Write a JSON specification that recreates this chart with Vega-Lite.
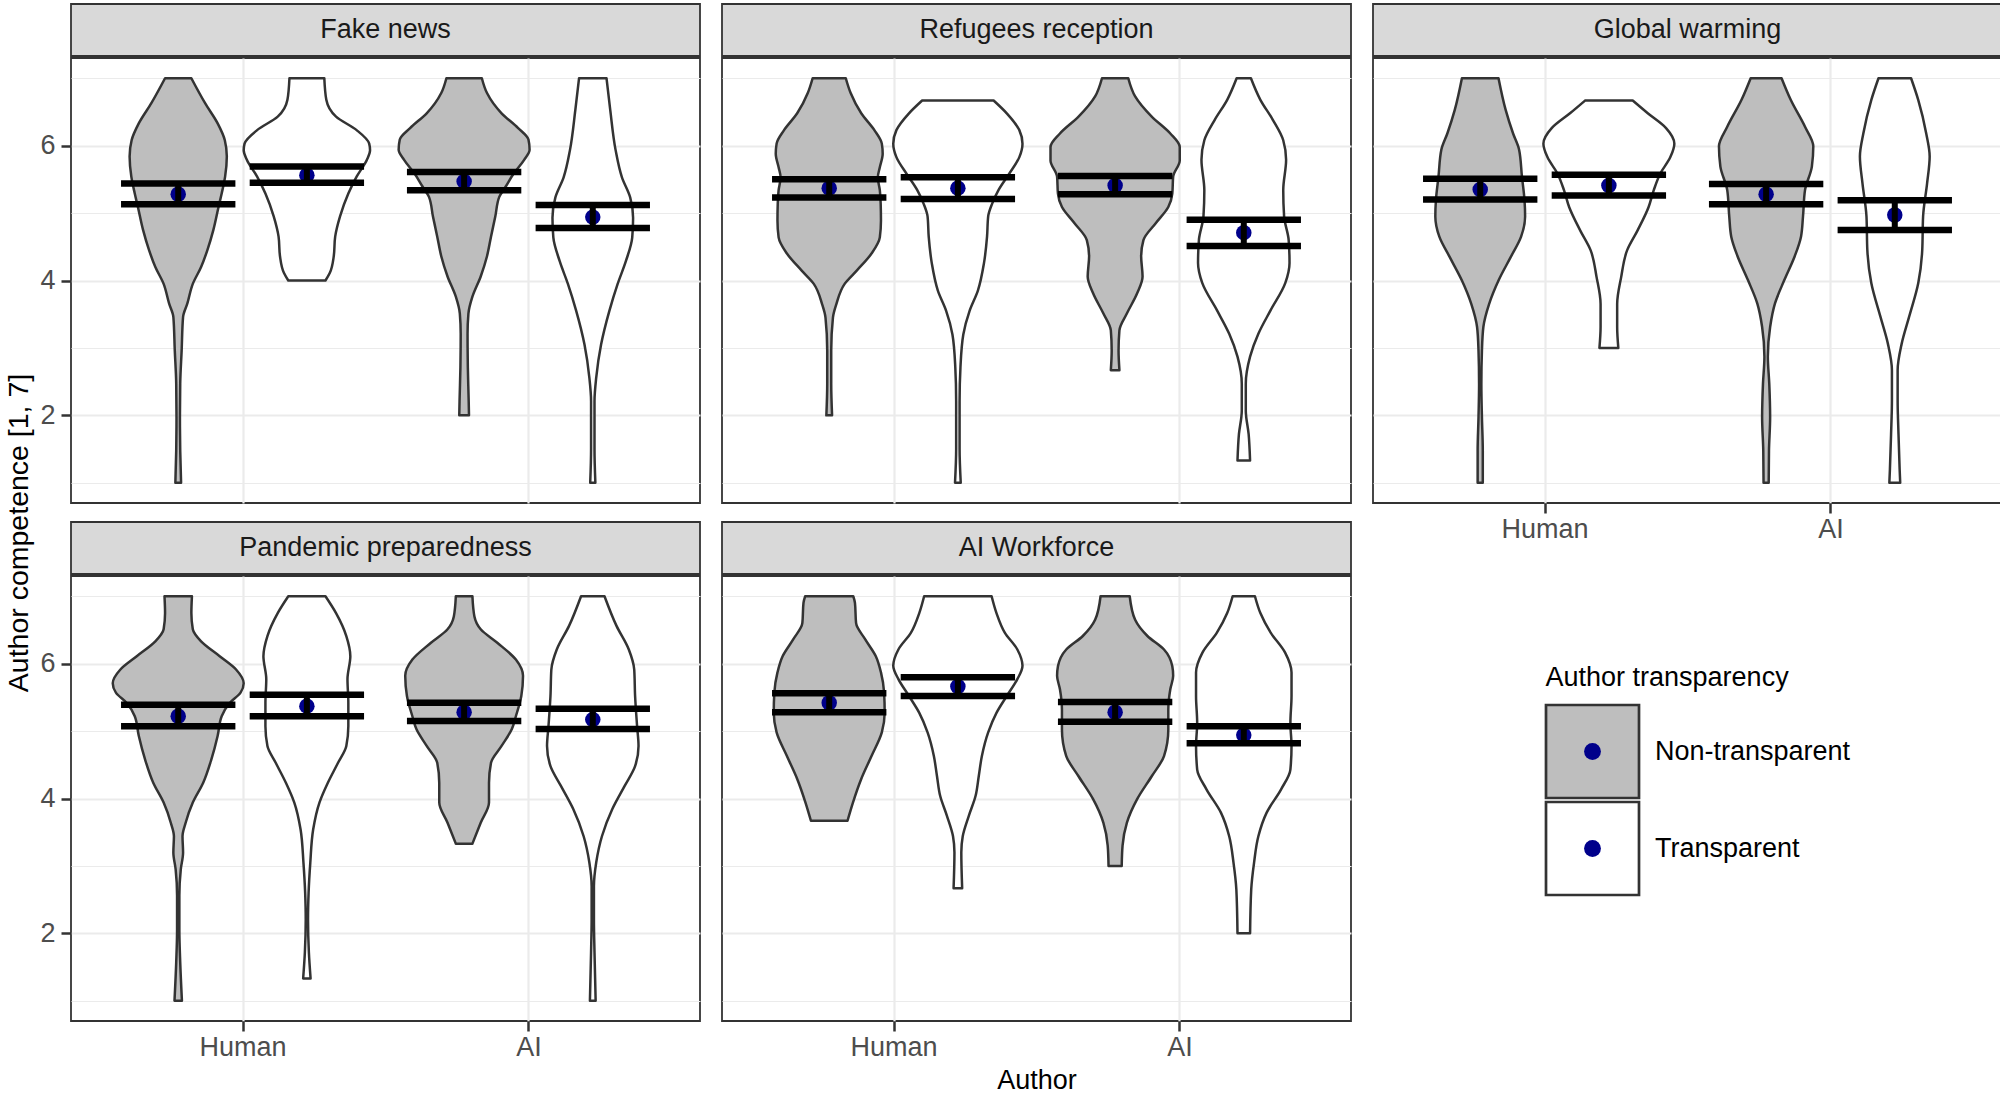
{
"$schema": "https://vega.github.io/schema/vega-lite/v6.json",
"padding": {"left": 5, "top": 3, "right": 0, "bottom": 0},
"autosize": {"type": "pad"},
"background": "white",
"config": {
  "font": "Liberation Sans",
  "view": {"stroke": "#333333", "strokeWidth": 1.8},
  "axis": {"gridColor": "#ebebeb", "domain": false, "tickSize": 10, "tickWidth": 2.5, "tickColor": "#333333", "labelFontSize": 27, "labelColor": "#4d4d4d", "titleFontSize": 27, "titleFontWeight": "normal", "titleColor": "#000000", "labelOverlap": false, "labelFlush": false}
},
"datasets": {
"violin": [
{"topic":"Fake news","author":"Human","transparency":"Non-transparent","y":7,"w":0.046},
{"topic":"Fake news","author":"Human","transparency":"Non-transparent","y":6.63,"w":0.094},
{"topic":"Fake news","author":"Human","transparency":"Non-transparent","y":6.33,"w":0.138},
{"topic":"Fake news","author":"Human","transparency":"Non-transparent","y":6.08,"w":0.163},
{"topic":"Fake news","author":"Human","transparency":"Non-transparent","y":5.84,"w":0.170},
{"topic":"Fake news","author":"Human","transparency":"Non-transparent","y":5.54,"w":0.164},
{"topic":"Fake news","author":"Human","transparency":"Non-transparent","y":5.29,"w":0.152},
{"topic":"Fake news","author":"Human","transparency":"Non-transparent","y":5.09,"w":0.141},
{"topic":"Fake news","author":"Human","transparency":"Non-transparent","y":4.75,"w":0.123},
{"topic":"Fake news","author":"Human","transparency":"Non-transparent","y":4.45,"w":0.102},
{"topic":"Fake news","author":"Human","transparency":"Non-transparent","y":4.2,"w":0.080},
{"topic":"Fake news","author":"Human","transparency":"Non-transparent","y":3.95,"w":0.051},
{"topic":"Fake news","author":"Human","transparency":"Non-transparent","y":3.66,"w":0.032},
{"topic":"Fake news","author":"Human","transparency":"Non-transparent","y":3.46,"w":0.017},
{"topic":"Fake news","author":"Human","transparency":"Non-transparent","y":2.96,"w":0.012},
{"topic":"Fake news","author":"Human","transparency":"Non-transparent","y":2.47,"w":0.007},
{"topic":"Fake news","author":"Human","transparency":"Non-transparent","y":1.97,"w":0.006},
{"topic":"Fake news","author":"Human","transparency":"Non-transparent","y":1.48,"w":0.007},
{"topic":"Fake news","author":"Human","transparency":"Non-transparent","y":1,"w":0.010},
{"topic":"Fake news","author":"Human","transparency":"Transparent","y":7,"w":0.061},
{"topic":"Fake news","author":"Human","transparency":"Transparent","y":6.68,"w":0.068},
{"topic":"Fake news","author":"Human","transparency":"Transparent","y":6.43,"w":0.102},
{"topic":"Fake news","author":"Human","transparency":"Transparent","y":6.23,"w":0.174},
{"topic":"Fake news","author":"Human","transparency":"Transparent","y":6.03,"w":0.218},
{"topic":"Fake news","author":"Human","transparency":"Transparent","y":5.93,"w":0.221},
{"topic":"Fake news","author":"Human","transparency":"Transparent","y":5.79,"w":0.210},
{"topic":"Fake news","author":"Human","transparency":"Transparent","y":5.54,"w":0.174},
{"topic":"Fake news","author":"Human","transparency":"Transparent","y":5.29,"w":0.145},
{"topic":"Fake news","author":"Human","transparency":"Transparent","y":4.95,"w":0.116},
{"topic":"Fake news","author":"Human","transparency":"Transparent","y":4.65,"w":0.099},
{"topic":"Fake news","author":"Human","transparency":"Transparent","y":4.36,"w":0.094},
{"topic":"Fake news","author":"Human","transparency":"Transparent","y":4.11,"w":0.080},
{"topic":"Fake news","author":"Human","transparency":"Transparent","y":4,"w":0.065},
{"topic":"Fake news","author":"AI","transparency":"Non-transparent","y":7,"w":0.062},
{"topic":"Fake news","author":"AI","transparency":"Non-transparent","y":6.78,"w":0.080},
{"topic":"Fake news","author":"AI","transparency":"Non-transparent","y":6.48,"w":0.131},
{"topic":"Fake news","author":"AI","transparency":"Non-transparent","y":6.26,"w":0.189},
{"topic":"Fake news","author":"AI","transparency":"Non-transparent","y":6.09,"w":0.225},
{"topic":"Fake news","author":"AI","transparency":"Non-transparent","y":5.94,"w":0.229},
{"topic":"Fake news","author":"AI","transparency":"Non-transparent","y":5.79,"w":0.210},
{"topic":"Fake news","author":"AI","transparency":"Non-transparent","y":5.59,"w":0.174},
{"topic":"Fake news","author":"AI","transparency":"Non-transparent","y":5.39,"w":0.145},
{"topic":"Fake news","author":"AI","transparency":"Non-transparent","y":5.24,"w":0.123},
{"topic":"Fake news","author":"AI","transparency":"Non-transparent","y":4.95,"w":0.109},
{"topic":"Fake news","author":"AI","transparency":"Non-transparent","y":4.65,"w":0.094},
{"topic":"Fake news","author":"AI","transparency":"Non-transparent","y":4.36,"w":0.080},
{"topic":"Fake news","author":"AI","transparency":"Non-transparent","y":4.06,"w":0.058},
{"topic":"Fake news","author":"AI","transparency":"Non-transparent","y":3.76,"w":0.029},
{"topic":"Fake news","author":"AI","transparency":"Non-transparent","y":3.51,"w":0.015},
{"topic":"Fake news","author":"AI","transparency":"Non-transparent","y":3.21,"w":0.012},
{"topic":"Fake news","author":"AI","transparency":"Non-transparent","y":2.71,"w":0.013},
{"topic":"Fake news","author":"AI","transparency":"Non-transparent","y":2.21,"w":0.016},
{"topic":"Fake news","author":"AI","transparency":"Non-transparent","y":2,"w":0.017},
{"topic":"Fake news","author":"AI","transparency":"Transparent","y":7,"w":0.048},
{"topic":"Fake news","author":"AI","transparency":"Transparent","y":6.53,"w":0.061},
{"topic":"Fake news","author":"AI","transparency":"Transparent","y":5.93,"w":0.080},
{"topic":"Fake news","author":"AI","transparency":"Transparent","y":5.53,"w":0.102},
{"topic":"Fake news","author":"AI","transparency":"Transparent","y":5.23,"w":0.131},
{"topic":"Fake news","author":"AI","transparency":"Transparent","y":4.93,"w":0.141},
{"topic":"Fake news","author":"AI","transparency":"Transparent","y":4.64,"w":0.138},
{"topic":"Fake news","author":"AI","transparency":"Transparent","y":4.29,"w":0.116},
{"topic":"Fake news","author":"AI","transparency":"Transparent","y":3.95,"w":0.087},
{"topic":"Fake news","author":"AI","transparency":"Transparent","y":3.55,"w":0.058},
{"topic":"Fake news","author":"AI","transparency":"Transparent","y":3.05,"w":0.029},
{"topic":"Fake news","author":"AI","transparency":"Transparent","y":2.56,"w":0.012},
{"topic":"Fake news","author":"AI","transparency":"Transparent","y":2.21,"w":0.006},
{"topic":"Fake news","author":"AI","transparency":"Transparent","y":1.5,"w":0.006},
{"topic":"Fake news","author":"AI","transparency":"Transparent","y":1,"w":0.009},
{"topic":"Refugees reception","author":"Human","transparency":"Non-transparent","y":7,"w":0.058},
{"topic":"Refugees reception","author":"Human","transparency":"Non-transparent","y":6.78,"w":0.075},
{"topic":"Refugees reception","author":"Human","transparency":"Non-transparent","y":6.48,"w":0.112},
{"topic":"Refugees reception","author":"Human","transparency":"Non-transparent","y":6.23,"w":0.158},
{"topic":"Refugees reception","author":"Human","transparency":"Non-transparent","y":6.03,"w":0.184},
{"topic":"Refugees reception","author":"Human","transparency":"Non-transparent","y":5.88,"w":0.187},
{"topic":"Refugees reception","author":"Human","transparency":"Non-transparent","y":5.68,"w":0.177},
{"topic":"Refugees reception","author":"Human","transparency":"Non-transparent","y":5.53,"w":0.170},
{"topic":"Refugees reception","author":"Human","transparency":"Non-transparent","y":5.34,"w":0.177},
{"topic":"Refugees reception","author":"Human","transparency":"Non-transparent","y":5.14,"w":0.180},
{"topic":"Refugees reception","author":"Human","transparency":"Non-transparent","y":4.89,"w":0.181},
{"topic":"Refugees reception","author":"Human","transparency":"Non-transparent","y":4.64,"w":0.177},
{"topic":"Refugees reception","author":"Human","transparency":"Non-transparent","y":4.4,"w":0.148},
{"topic":"Refugees reception","author":"Human","transparency":"Non-transparent","y":4.15,"w":0.097},
{"topic":"Refugees reception","author":"Human","transparency":"Non-transparent","y":3.95,"w":0.054},
{"topic":"Refugees reception","author":"Human","transparency":"Non-transparent","y":3.65,"w":0.025},
{"topic":"Refugees reception","author":"Human","transparency":"Non-transparent","y":3.45,"w":0.013},
{"topic":"Refugees reception","author":"Human","transparency":"Non-transparent","y":2.96,"w":0.007},
{"topic":"Refugees reception","author":"Human","transparency":"Non-transparent","y":2.47,"w":0.007},
{"topic":"Refugees reception","author":"Human","transparency":"Non-transparent","y":2,"w":0.010},
{"topic":"Refugees reception","author":"Human","transparency":"Transparent","y":6.67,"w":0.125},
{"topic":"Refugees reception","author":"Human","transparency":"Transparent","y":6.48,"w":0.171},
{"topic":"Refugees reception","author":"Human","transparency":"Transparent","y":6.23,"w":0.215},
{"topic":"Refugees reception","author":"Human","transparency":"Transparent","y":6.03,"w":0.226},
{"topic":"Refugees reception","author":"Human","transparency":"Transparent","y":5.83,"w":0.215},
{"topic":"Refugees reception","author":"Human","transparency":"Transparent","y":5.58,"w":0.179},
{"topic":"Refugees reception","author":"Human","transparency":"Transparent","y":5.34,"w":0.142},
{"topic":"Refugees reception","author":"Human","transparency":"Transparent","y":5.14,"w":0.120},
{"topic":"Refugees reception","author":"Human","transparency":"Transparent","y":4.95,"w":0.106},
{"topic":"Refugees reception","author":"Human","transparency":"Transparent","y":4.65,"w":0.102},
{"topic":"Refugees reception","author":"Human","transparency":"Transparent","y":4.25,"w":0.091},
{"topic":"Refugees reception","author":"Human","transparency":"Transparent","y":3.85,"w":0.070},
{"topic":"Refugees reception","author":"Human","transparency":"Transparent","y":3.55,"w":0.041},
{"topic":"Refugees reception","author":"Human","transparency":"Transparent","y":3.2,"w":0.019},
{"topic":"Refugees reception","author":"Human","transparency":"Transparent","y":2.71,"w":0.009},
{"topic":"Refugees reception","author":"Human","transparency":"Transparent","y":2.21,"w":0.006},
{"topic":"Refugees reception","author":"Human","transparency":"Transparent","y":1.5,"w":0.006},
{"topic":"Refugees reception","author":"Human","transparency":"Transparent","y":1,"w":0.010},
{"topic":"Refugees reception","author":"AI","transparency":"Non-transparent","y":7,"w":0.046},
{"topic":"Refugees reception","author":"AI","transparency":"Non-transparent","y":6.73,"w":0.070},
{"topic":"Refugees reception","author":"AI","transparency":"Non-transparent","y":6.43,"w":0.128},
{"topic":"Refugees reception","author":"AI","transparency":"Non-transparent","y":6.18,"w":0.193},
{"topic":"Refugees reception","author":"AI","transparency":"Non-transparent","y":5.98,"w":0.226},
{"topic":"Refugees reception","author":"AI","transparency":"Non-transparent","y":5.78,"w":0.226},
{"topic":"Refugees reception","author":"AI","transparency":"Non-transparent","y":5.54,"w":0.203},
{"topic":"Refugees reception","author":"AI","transparency":"Non-transparent","y":5.29,"w":0.200},
{"topic":"Refugees reception","author":"AI","transparency":"Non-transparent","y":5.09,"w":0.186},
{"topic":"Refugees reception","author":"AI","transparency":"Non-transparent","y":4.85,"w":0.142},
{"topic":"Refugees reception","author":"AI","transparency":"Non-transparent","y":4.6,"w":0.099},
{"topic":"Refugees reception","author":"AI","transparency":"Non-transparent","y":4.36,"w":0.091},
{"topic":"Refugees reception","author":"AI","transparency":"Non-transparent","y":4.06,"w":0.096},
{"topic":"Refugees reception","author":"AI","transparency":"Non-transparent","y":3.81,"w":0.077},
{"topic":"Refugees reception","author":"AI","transparency":"Non-transparent","y":3.51,"w":0.041},
{"topic":"Refugees reception","author":"AI","transparency":"Non-transparent","y":3.26,"w":0.015},
{"topic":"Refugees reception","author":"AI","transparency":"Non-transparent","y":2.96,"w":0.012},
{"topic":"Refugees reception","author":"AI","transparency":"Non-transparent","y":2.67,"w":0.015},
{"topic":"Refugees reception","author":"AI","transparency":"Transparent","y":7,"w":0.025},
{"topic":"Refugees reception","author":"AI","transparency":"Transparent","y":6.68,"w":0.058},
{"topic":"Refugees reception","author":"AI","transparency":"Transparent","y":6.38,"w":0.102},
{"topic":"Refugees reception","author":"AI","transparency":"Transparent","y":6.08,"w":0.138},
{"topic":"Refugees reception","author":"AI","transparency":"Transparent","y":5.79,"w":0.148},
{"topic":"Refugees reception","author":"AI","transparency":"Transparent","y":5.34,"w":0.138},
{"topic":"Refugees reception","author":"AI","transparency":"Transparent","y":4.95,"w":0.141},
{"topic":"Refugees reception","author":"AI","transparency":"Transparent","y":4.6,"w":0.157},
{"topic":"Refugees reception","author":"AI","transparency":"Transparent","y":4.26,"w":0.160},
{"topic":"Refugees reception","author":"AI","transparency":"Transparent","y":3.96,"w":0.145},
{"topic":"Refugees reception","author":"AI","transparency":"Transparent","y":3.56,"w":0.094},
{"topic":"Refugees reception","author":"AI","transparency":"Transparent","y":3.21,"w":0.051},
{"topic":"Refugees reception","author":"AI","transparency":"Transparent","y":2.87,"w":0.022},
{"topic":"Refugees reception","author":"AI","transparency":"Transparent","y":2.47,"w":0.007},
{"topic":"Refugees reception","author":"AI","transparency":"Transparent","y":2.07,"w":0.007},
{"topic":"Refugees reception","author":"AI","transparency":"Transparent","y":1.72,"w":0.017},
{"topic":"Refugees reception","author":"AI","transparency":"Transparent","y":1.33,"w":0.022},
{"topic":"Global warming","author":"Human","transparency":"Non-transparent","y":7,"w":0.064},
{"topic":"Global warming","author":"Human","transparency":"Non-transparent","y":6.53,"w":0.089},
{"topic":"Global warming","author":"Human","transparency":"Non-transparent","y":6.18,"w":0.115},
{"topic":"Global warming","author":"Human","transparency":"Non-transparent","y":5.94,"w":0.136},
{"topic":"Global warming","author":"Human","transparency":"Non-transparent","y":5.54,"w":0.146},
{"topic":"Global warming","author":"Human","transparency":"Non-transparent","y":5.19,"w":0.155},
{"topic":"Global warming","author":"Human","transparency":"Non-transparent","y":4.95,"w":0.157},
{"topic":"Global warming","author":"Human","transparency":"Non-transparent","y":4.65,"w":0.143},
{"topic":"Global warming","author":"Human","transparency":"Non-transparent","y":4.35,"w":0.107},
{"topic":"Global warming","author":"Human","transparency":"Non-transparent","y":4,"w":0.064},
{"topic":"Global warming","author":"Human","transparency":"Non-transparent","y":3.65,"w":0.031},
{"topic":"Global warming","author":"Human","transparency":"Non-transparent","y":3.31,"w":0.011},
{"topic":"Global warming","author":"Human","transparency":"Non-transparent","y":2.96,"w":0.006},
{"topic":"Global warming","author":"Human","transparency":"Non-transparent","y":2.47,"w":0.004},
{"topic":"Global warming","author":"Human","transparency":"Non-transparent","y":1.97,"w":0.006},
{"topic":"Global warming","author":"Human","transparency":"Non-transparent","y":1.48,"w":0.009},
{"topic":"Global warming","author":"Human","transparency":"Non-transparent","y":1,"w":0.009},
{"topic":"Global warming","author":"Human","transparency":"Transparent","y":6.67,"w":0.083},
{"topic":"Global warming","author":"Human","transparency":"Transparent","y":6.48,"w":0.136},
{"topic":"Global warming","author":"Human","transparency":"Transparent","y":6.26,"w":0.200},
{"topic":"Global warming","author":"Human","transparency":"Transparent","y":6.03,"w":0.229},
{"topic":"Global warming","author":"Human","transparency":"Transparent","y":5.83,"w":0.215},
{"topic":"Global warming","author":"Human","transparency":"Transparent","y":5.58,"w":0.179},
{"topic":"Global warming","author":"Human","transparency":"Transparent","y":5.34,"w":0.157},
{"topic":"Global warming","author":"Human","transparency":"Transparent","y":5.09,"w":0.139},
{"topic":"Global warming","author":"Human","transparency":"Transparent","y":4.74,"w":0.100},
{"topic":"Global warming","author":"Human","transparency":"Transparent","y":4.45,"w":0.064},
{"topic":"Global warming","author":"Human","transparency":"Transparent","y":4.05,"w":0.043},
{"topic":"Global warming","author":"Human","transparency":"Transparent","y":3.65,"w":0.029},
{"topic":"Global warming","author":"Human","transparency":"Transparent","y":3.31,"w":0.029},
{"topic":"Global warming","author":"Human","transparency":"Transparent","y":3,"w":0.033},
{"topic":"Global warming","author":"AI","transparency":"Non-transparent","y":7,"w":0.054},
{"topic":"Global warming","author":"AI","transparency":"Non-transparent","y":6.68,"w":0.086},
{"topic":"Global warming","author":"AI","transparency":"Non-transparent","y":6.28,"w":0.136},
{"topic":"Global warming","author":"AI","transparency":"Non-transparent","y":5.99,"w":0.165},
{"topic":"Global warming","author":"AI","transparency":"Non-transparent","y":5.69,"w":0.160},
{"topic":"Global warming","author":"AI","transparency":"Non-transparent","y":5.34,"w":0.136},
{"topic":"Global warming","author":"AI","transparency":"Non-transparent","y":4.95,"w":0.129},
{"topic":"Global warming","author":"AI","transparency":"Non-transparent","y":4.65,"w":0.122},
{"topic":"Global warming","author":"AI","transparency":"Non-transparent","y":4.36,"w":0.100},
{"topic":"Global warming","author":"AI","transparency":"Non-transparent","y":4.01,"w":0.064},
{"topic":"Global warming","author":"AI","transparency":"Non-transparent","y":3.66,"w":0.031},
{"topic":"Global warming","author":"AI","transparency":"Non-transparent","y":3.31,"w":0.014},
{"topic":"Global warming","author":"AI","transparency":"Non-transparent","y":2.87,"w":0.006},
{"topic":"Global warming","author":"AI","transparency":"Non-transparent","y":2.47,"w":0.011},
{"topic":"Global warming","author":"AI","transparency":"Non-transparent","y":1.97,"w":0.014},
{"topic":"Global warming","author":"AI","transparency":"Non-transparent","y":1.48,"w":0.010},
{"topic":"Global warming","author":"AI","transparency":"Non-transparent","y":1,"w":0.009},
{"topic":"Global warming","author":"AI","transparency":"Transparent","y":7,"w":0.057},
{"topic":"Global warming","author":"AI","transparency":"Transparent","y":6.68,"w":0.082},
{"topic":"Global warming","author":"AI","transparency":"Transparent","y":6.18,"w":0.110},
{"topic":"Global warming","author":"AI","transparency":"Transparent","y":5.84,"w":0.122},
{"topic":"Global warming","author":"AI","transparency":"Transparent","y":5.44,"w":0.113},
{"topic":"Global warming","author":"AI","transparency":"Transparent","y":4.95,"w":0.099},
{"topic":"Global warming","author":"AI","transparency":"Transparent","y":4.45,"w":0.096},
{"topic":"Global warming","author":"AI","transparency":"Transparent","y":3.96,"w":0.082},
{"topic":"Global warming","author":"AI","transparency":"Transparent","y":3.46,"w":0.050},
{"topic":"Global warming","author":"AI","transparency":"Transparent","y":3.06,"w":0.024},
{"topic":"Global warming","author":"AI","transparency":"Transparent","y":2.67,"w":0.010},
{"topic":"Global warming","author":"AI","transparency":"Transparent","y":2.22,"w":0.010},
{"topic":"Global warming","author":"AI","transparency":"Transparent","y":1.72,"w":0.013},
{"topic":"Global warming","author":"AI","transparency":"Transparent","y":1.2,"w":0.017},
{"topic":"Global warming","author":"AI","transparency":"Transparent","y":1,"w":0.019},
{"topic":"Pandemic preparedness","author":"Human","transparency":"Non-transparent","y":7,"w":0.048},
{"topic":"Pandemic preparedness","author":"Human","transparency":"Non-transparent","y":6.75,"w":0.046},
{"topic":"Pandemic preparedness","author":"Human","transparency":"Non-transparent","y":6.51,"w":0.051},
{"topic":"Pandemic preparedness","author":"Human","transparency":"Non-transparent","y":6.33,"w":0.080},
{"topic":"Pandemic preparedness","author":"Human","transparency":"Non-transparent","y":6.11,"w":0.145},
{"topic":"Pandemic preparedness","author":"Human","transparency":"Non-transparent","y":5.91,"w":0.203},
{"topic":"Pandemic preparedness","author":"Human","transparency":"Non-transparent","y":5.71,"w":0.229},
{"topic":"Pandemic preparedness","author":"Human","transparency":"Non-transparent","y":5.57,"w":0.218},
{"topic":"Pandemic preparedness","author":"Human","transparency":"Non-transparent","y":5.42,"w":0.181},
{"topic":"Pandemic preparedness","author":"Human","transparency":"Non-transparent","y":5.22,"w":0.152},
{"topic":"Pandemic preparedness","author":"Human","transparency":"Non-transparent","y":4.93,"w":0.138},
{"topic":"Pandemic preparedness","author":"Human","transparency":"Non-transparent","y":4.58,"w":0.116},
{"topic":"Pandemic preparedness","author":"Human","transparency":"Non-transparent","y":4.23,"w":0.087},
{"topic":"Pandemic preparedness","author":"Human","transparency":"Non-transparent","y":3.94,"w":0.051},
{"topic":"Pandemic preparedness","author":"Human","transparency":"Non-transparent","y":3.64,"w":0.026},
{"topic":"Pandemic preparedness","author":"Human","transparency":"Non-transparent","y":3.44,"w":0.015},
{"topic":"Pandemic preparedness","author":"Human","transparency":"Non-transparent","y":3.2,"w":0.017},
{"topic":"Pandemic preparedness","author":"Human","transparency":"Non-transparent","y":2.95,"w":0.009},
{"topic":"Pandemic preparedness","author":"Human","transparency":"Non-transparent","y":2.56,"w":0.004},
{"topic":"Pandemic preparedness","author":"Human","transparency":"Non-transparent","y":2.06,"w":0.004},
{"topic":"Pandemic preparedness","author":"Human","transparency":"Non-transparent","y":1.57,"w":0.007},
{"topic":"Pandemic preparedness","author":"Human","transparency":"Non-transparent","y":1,"w":0.013},
{"topic":"Pandemic preparedness","author":"Human","transparency":"Transparent","y":7,"w":0.065},
{"topic":"Pandemic preparedness","author":"Human","transparency":"Transparent","y":6.75,"w":0.102},
{"topic":"Pandemic preparedness","author":"Human","transparency":"Transparent","y":6.41,"w":0.138},
{"topic":"Pandemic preparedness","author":"Human","transparency":"Transparent","y":6.11,"w":0.152},
{"topic":"Pandemic preparedness","author":"Human","transparency":"Transparent","y":5.77,"w":0.142},
{"topic":"Pandemic preparedness","author":"Human","transparency":"Transparent","y":5.42,"w":0.145},
{"topic":"Pandemic preparedness","author":"Human","transparency":"Transparent","y":5.07,"w":0.145},
{"topic":"Pandemic preparedness","author":"Human","transparency":"Transparent","y":4.78,"w":0.138},
{"topic":"Pandemic preparedness","author":"Human","transparency":"Transparent","y":4.53,"w":0.109},
{"topic":"Pandemic preparedness","author":"Human","transparency":"Transparent","y":4.23,"w":0.073},
{"topic":"Pandemic preparedness","author":"Human","transparency":"Transparent","y":3.94,"w":0.044},
{"topic":"Pandemic preparedness","author":"Human","transparency":"Transparent","y":3.54,"w":0.022},
{"topic":"Pandemic preparedness","author":"Human","transparency":"Transparent","y":3.05,"w":0.012},
{"topic":"Pandemic preparedness","author":"Human","transparency":"Transparent","y":2.6,"w":0.006},
{"topic":"Pandemic preparedness","author":"Human","transparency":"Transparent","y":2.21,"w":0.004},
{"topic":"Pandemic preparedness","author":"Human","transparency":"Transparent","y":1.72,"w":0.007},
{"topic":"Pandemic preparedness","author":"Human","transparency":"Transparent","y":1.33,"w":0.013},
{"topic":"Pandemic preparedness","author":"AI","transparency":"Non-transparent","y":7,"w":0.029},
{"topic":"Pandemic preparedness","author":"AI","transparency":"Non-transparent","y":6.7,"w":0.036},
{"topic":"Pandemic preparedness","author":"AI","transparency":"Non-transparent","y":6.51,"w":0.058},
{"topic":"Pandemic preparedness","author":"AI","transparency":"Non-transparent","y":6.31,"w":0.116},
{"topic":"Pandemic preparedness","author":"AI","transparency":"Non-transparent","y":6.06,"w":0.181},
{"topic":"Pandemic preparedness","author":"AI","transparency":"Non-transparent","y":5.82,"w":0.206},
{"topic":"Pandemic preparedness","author":"AI","transparency":"Non-transparent","y":5.52,"w":0.200},
{"topic":"Pandemic preparedness","author":"AI","transparency":"Non-transparent","y":5.22,"w":0.181},
{"topic":"Pandemic preparedness","author":"AI","transparency":"Non-transparent","y":5.03,"w":0.167},
{"topic":"Pandemic preparedness","author":"AI","transparency":"Non-transparent","y":4.78,"w":0.131},
{"topic":"Pandemic preparedness","author":"AI","transparency":"Non-transparent","y":4.53,"w":0.094},
{"topic":"Pandemic preparedness","author":"AI","transparency":"Non-transparent","y":4.23,"w":0.087},
{"topic":"Pandemic preparedness","author":"AI","transparency":"Non-transparent","y":3.94,"w":0.087},
{"topic":"Pandemic preparedness","author":"AI","transparency":"Non-transparent","y":3.64,"w":0.058},
{"topic":"Pandemic preparedness","author":"AI","transparency":"Non-transparent","y":3.33,"w":0.029},
{"topic":"Pandemic preparedness","author":"AI","transparency":"Transparent","y":7,"w":0.041},
{"topic":"Pandemic preparedness","author":"AI","transparency":"Transparent","y":6.56,"w":0.083},
{"topic":"Pandemic preparedness","author":"AI","transparency":"Transparent","y":6.21,"w":0.126},
{"topic":"Pandemic preparedness","author":"AI","transparency":"Transparent","y":5.91,"w":0.145},
{"topic":"Pandemic preparedness","author":"AI","transparency":"Transparent","y":5.52,"w":0.148},
{"topic":"Pandemic preparedness","author":"AI","transparency":"Transparent","y":5.07,"w":0.155},
{"topic":"Pandemic preparedness","author":"AI","transparency":"Transparent","y":4.78,"w":0.160},
{"topic":"Pandemic preparedness","author":"AI","transparency":"Transparent","y":4.48,"w":0.148},
{"topic":"Pandemic preparedness","author":"AI","transparency":"Transparent","y":4.19,"w":0.112},
{"topic":"Pandemic preparedness","author":"AI","transparency":"Transparent","y":3.84,"w":0.068},
{"topic":"Pandemic preparedness","author":"AI","transparency":"Transparent","y":3.44,"w":0.032},
{"topic":"Pandemic preparedness","author":"AI","transparency":"Transparent","y":3.05,"w":0.012},
{"topic":"Pandemic preparedness","author":"AI","transparency":"Transparent","y":2.7,"w":0.004},
{"topic":"Pandemic preparedness","author":"AI","transparency":"Transparent","y":2.21,"w":0.004},
{"topic":"Pandemic preparedness","author":"AI","transparency":"Transparent","y":1.72,"w":0.006},
{"topic":"Pandemic preparedness","author":"AI","transparency":"Transparent","y":1,"w":0.010},
{"topic":"AI Workforce","author":"Human","transparency":"Non-transparent","y":7,"w":0.084},
{"topic":"AI Workforce","author":"Human","transparency":"Non-transparent","y":6.9,"w":0.090},
{"topic":"AI Workforce","author":"Human","transparency":"Non-transparent","y":6.6,"w":0.094},
{"topic":"AI Workforce","author":"Human","transparency":"Non-transparent","y":6.36,"w":0.126},
{"topic":"AI Workforce","author":"Human","transparency":"Non-transparent","y":6.11,"w":0.163},
{"topic":"AI Workforce","author":"Human","transparency":"Non-transparent","y":5.87,"w":0.181},
{"topic":"AI Workforce","author":"Human","transparency":"Non-transparent","y":5.57,"w":0.192},
{"topic":"AI Workforce","author":"Human","transparency":"Non-transparent","y":5.27,"w":0.194},
{"topic":"AI Workforce","author":"Human","transparency":"Non-transparent","y":4.98,"w":0.184},
{"topic":"AI Workforce","author":"Human","transparency":"Non-transparent","y":4.63,"w":0.148},
{"topic":"AI Workforce","author":"Human","transparency":"Non-transparent","y":4.29,"w":0.112},
{"topic":"AI Workforce","author":"Human","transparency":"Non-transparent","y":3.94,"w":0.083},
{"topic":"AI Workforce","author":"Human","transparency":"Non-transparent","y":3.67,"w":0.064},
{"topic":"AI Workforce","author":"Human","transparency":"Transparent","y":7,"w":0.118},
{"topic":"AI Workforce","author":"Human","transparency":"Transparent","y":6.75,"w":0.135},
{"topic":"AI Workforce","author":"Human","transparency":"Transparent","y":6.46,"w":0.164},
{"topic":"AI Workforce","author":"Human","transparency":"Transparent","y":6.21,"w":0.208},
{"topic":"AI Workforce","author":"Human","transparency":"Transparent","y":5.97,"w":0.226},
{"topic":"AI Workforce","author":"Human","transparency":"Transparent","y":5.77,"w":0.208},
{"topic":"AI Workforce","author":"Human","transparency":"Transparent","y":5.52,"w":0.171},
{"topic":"AI Workforce","author":"Human","transparency":"Transparent","y":5.27,"w":0.135},
{"topic":"AI Workforce","author":"Human","transparency":"Transparent","y":4.98,"w":0.106},
{"topic":"AI Workforce","author":"Human","transparency":"Transparent","y":4.63,"w":0.084},
{"topic":"AI Workforce","author":"Human","transparency":"Transparent","y":4.33,"w":0.073},
{"topic":"AI Workforce","author":"Human","transparency":"Transparent","y":4.04,"w":0.062},
{"topic":"AI Workforce","author":"Human","transparency":"Transparent","y":3.74,"w":0.038},
{"topic":"AI Workforce","author":"Human","transparency":"Transparent","y":3.44,"w":0.017},
{"topic":"AI Workforce","author":"Human","transparency":"Transparent","y":3.2,"w":0.012},
{"topic":"AI Workforce","author":"Human","transparency":"Transparent","y":2.67,"w":0.015},
{"topic":"AI Workforce","author":"AI","transparency":"Non-transparent","y":7,"w":0.051},
{"topic":"AI Workforce","author":"AI","transparency":"Non-transparent","y":6.65,"w":0.070},
{"topic":"AI Workforce","author":"AI","transparency":"Non-transparent","y":6.41,"w":0.113},
{"topic":"AI Workforce","author":"AI","transparency":"Non-transparent","y":6.21,"w":0.171},
{"topic":"AI Workforce","author":"AI","transparency":"Non-transparent","y":5.96,"w":0.200},
{"topic":"AI Workforce","author":"AI","transparency":"Non-transparent","y":5.82,"w":0.203},
{"topic":"AI Workforce","author":"AI","transparency":"Non-transparent","y":5.62,"w":0.193},
{"topic":"AI Workforce","author":"AI","transparency":"Non-transparent","y":5.32,"w":0.186},
{"topic":"AI Workforce","author":"AI","transparency":"Non-transparent","y":5.02,"w":0.186},
{"topic":"AI Workforce","author":"AI","transparency":"Non-transparent","y":4.63,"w":0.171},
{"topic":"AI Workforce","author":"AI","transparency":"Non-transparent","y":4.33,"w":0.128},
{"topic":"AI Workforce","author":"AI","transparency":"Non-transparent","y":3.99,"w":0.077},
{"topic":"AI Workforce","author":"AI","transparency":"Non-transparent","y":3.64,"w":0.041},
{"topic":"AI Workforce","author":"AI","transparency":"Non-transparent","y":3.3,"w":0.026},
{"topic":"AI Workforce","author":"AI","transparency":"Non-transparent","y":3,"w":0.023},
{"topic":"AI Workforce","author":"AI","transparency":"Transparent","y":7,"w":0.039},
{"topic":"AI Workforce","author":"AI","transparency":"Transparent","y":6.75,"w":0.058},
{"topic":"AI Workforce","author":"AI","transparency":"Transparent","y":6.46,"w":0.094},
{"topic":"AI Workforce","author":"AI","transparency":"Transparent","y":6.16,"w":0.145},
{"topic":"AI Workforce","author":"AI","transparency":"Transparent","y":5.87,"w":0.167},
{"topic":"AI Workforce","author":"AI","transparency":"Transparent","y":5.52,"w":0.167},
{"topic":"AI Workforce","author":"AI","transparency":"Transparent","y":5.12,"w":0.163},
{"topic":"AI Workforce","author":"AI","transparency":"Transparent","y":4.78,"w":0.167},
{"topic":"AI Workforce","author":"AI","transparency":"Transparent","y":4.43,"w":0.163},
{"topic":"AI Workforce","author":"AI","transparency":"Transparent","y":4.14,"w":0.131},
{"topic":"AI Workforce","author":"AI","transparency":"Transparent","y":3.79,"w":0.080},
{"topic":"AI Workforce","author":"AI","transparency":"Transparent","y":3.44,"w":0.051},
{"topic":"AI Workforce","author":"AI","transparency":"Transparent","y":3.05,"w":0.036},
{"topic":"AI Workforce","author":"AI","transparency":"Transparent","y":2.65,"w":0.026},
{"topic":"AI Workforce","author":"AI","transparency":"Transparent","y":2,"w":0.022}
],
"stats": [
{"topic":"Fake news","author":"Human","transparency":"Non-transparent","mean":5.28,"lo":5.13,"hi":5.44},
{"topic":"Fake news","author":"Human","transparency":"Transparent","mean":5.56,"lo":5.45,"hi":5.69},
{"topic":"Fake news","author":"AI","transparency":"Non-transparent","mean":5.47,"lo":5.34,"hi":5.61},
{"topic":"Fake news","author":"AI","transparency":"Transparent","mean":4.94,"lo":4.78,"hi":5.12},
{"topic":"Refugees reception","author":"Human","transparency":"Non-transparent","mean":5.37,"lo":5.23,"hi":5.50},
{"topic":"Refugees reception","author":"Human","transparency":"Transparent","mean":5.37,"lo":5.21,"hi":5.53},
{"topic":"Refugees reception","author":"AI","transparency":"Non-transparent","mean":5.41,"lo":5.28,"hi":5.55},
{"topic":"Refugees reception","author":"AI","transparency":"Transparent","mean":4.71,"lo":4.51,"hi":4.90},
{"topic":"Global warming","author":"Human","transparency":"Non-transparent","mean":5.35,"lo":5.20,"hi":5.51},
{"topic":"Global warming","author":"Human","transparency":"Transparent","mean":5.41,"lo":5.26,"hi":5.57},
{"topic":"Global warming","author":"AI","transparency":"Non-transparent","mean":5.28,"lo":5.13,"hi":5.43},
{"topic":"Global warming","author":"AI","transparency":"Transparent","mean":4.97,"lo":4.75,"hi":5.19},
{"topic":"Pandemic preparedness","author":"Human","transparency":"Non-transparent","mean":5.22,"lo":5.07,"hi":5.39},
{"topic":"Pandemic preparedness","author":"Human","transparency":"Transparent","mean":5.37,"lo":5.22,"hi":5.54},
{"topic":"Pandemic preparedness","author":"AI","transparency":"Non-transparent","mean":5.28,"lo":5.15,"hi":5.42},
{"topic":"Pandemic preparedness","author":"AI","transparency":"Transparent","mean":5.17,"lo":5.03,"hi":5.33},
{"topic":"AI Workforce","author":"Human","transparency":"Non-transparent","mean":5.42,"lo":5.28,"hi":5.56},
{"topic":"AI Workforce","author":"Human","transparency":"Transparent","mean":5.66,"lo":5.52,"hi":5.80},
{"topic":"AI Workforce","author":"AI","transparency":"Non-transparent","mean":5.28,"lo":5.14,"hi":5.43},
{"topic":"AI Workforce","author":"AI","transparency":"Transparent","mean":4.94,"lo":4.82,"hi":5.07}
]
},
"spacing": 5,
"hconcat": [
{"width": 20, "height": 1058, "view": {"stroke": null, "fill": null},
 "data": {"values": [{"label": "Author competence [1, 7]"}]},
 "mark": {"type": "text", "angle": 270, "fontSize": 28.5, "color": "#000000"},
 "encoding": {"text": {"field": "label", "type": "nominal"}}},
{"spacing": 20, "hconcat": [
 {"spacing": 17, "vconcat": [
  {"spacing": 0, "vconcat": [
   {"width": 629, "height": 52, "view": {"fill": "#d9d9d9", "stroke": "#333333", "strokeWidth": 1.8}, "data": {"values": [{"topic": "Fake news"}]}, "mark": {"type": "text", "fontSize": 27, "color": "#1a1a1a"}, "encoding": {"text": {"field": "topic", "type": "nominal"}}},
   {"width": 629, "height": 445, "layer": [
    {"data": {"name": "violin"},
     "transform": [{"filter": "datum.topic === 'Fake news'"}, {"calculate": "(datum.author === 'Human' ? 1 : 2) + (datum.transparency === 'Transparent' ? 0.225 : -0.225)", "as": "xc"}, {"calculate": "datum.xc - datum.w", "as": "xl"}, {"calculate": "datum.xc + datum.w", "as": "xr"}],
     "mark": {"type": "area", "orient": "horizontal", "interpolate": "monotone", "stroke": "#333333", "strokeWidth": 2.5, "strokeJoin": "round"},
     "encoding": {
      "y": {"field": "y", "type": "quantitative", "scale": {"domain": [0.7, 7.3], "nice": false, "zero": false}, "axis": {"values": [1,2,3,4,5,6,7], "format": "d", "labelExpr": "datum.value % 2 === 0 ? datum.label : ''", "gridWidth": {"condition": {"test": "datum.value % 2 === 0", "value": 2.2}, "value": 1.1}, "tickOpacity": {"condition": {"test": "datum.value % 2 === 0", "value": 1}, "value": 0}, "labelPadding": 6, "title": null}},
      "x": {"field": "xl", "type": "quantitative", "stack": null, "scale": {"domain": [0.4, 2.6], "nice": false, "zero": false}, "axis": {"values": [1, 2], "labels": false, "ticks": false, "gridWidth": 2.2, "title": null}},
      "x2": {"field": "xr"},
      "fill": {"field": "transparency", "type": "nominal", "scale": {"domain": ["Non-transparent", "Transparent"], "range": ["#bebebe", "#ffffff"]}, "legend": null},
      "detail": {"field": "author", "type": "nominal"}}},
    {"data": {"name": "stats"},
     "transform": [{"filter": "datum.topic === 'Fake news'"}, {"calculate": "(datum.author === 'Human' ? 1 : 2) + (datum.transparency === 'Transparent' ? 0.225 : -0.225)", "as": "xc"}, {"calculate": "datum.xc - 0.2", "as": "xa"}, {"calculate": "datum.xc + 0.2", "as": "xb"}],
     "layer": [
      {"mark": {"type": "point", "filled": true, "size": 240, "color": "#00008b", "opacity": 1}, "encoding": {"y": {"field": "mean", "type": "quantitative", "scale": {"domain": [0.7, 7.3], "nice": false, "zero": false}, "axis": {"title": null}}, "x": {"field": "xc", "type": "quantitative", "scale": {"domain": [0.4, 2.6], "nice": false, "zero": false}, "axis": {"title": null}}}},
      {"mark": {"type": "rule", "strokeWidth": 6.5, "color": "#000000"}, "encoding": {"y": {"field": "lo", "type": "quantitative", "scale": {"domain": [0.7, 7.3], "nice": false, "zero": false}, "axis": {"title": null}}, "x": {"field": "xa", "type": "quantitative", "scale": {"domain": [0.4, 2.6], "nice": false, "zero": false}, "axis": {"title": null}}, "x2": {"field": "xb"}}},
      {"mark": {"type": "rule", "strokeWidth": 6.5, "color": "#000000"}, "encoding": {"y": {"field": "hi", "type": "quantitative", "scale": {"domain": [0.7, 7.3], "nice": false, "zero": false}, "axis": {"title": null}}, "x": {"field": "xa", "type": "quantitative", "scale": {"domain": [0.4, 2.6], "nice": false, "zero": false}, "axis": {"title": null}}, "x2": {"field": "xb"}}},
      {"mark": {"type": "rule", "strokeWidth": 6, "color": "#000000"}, "encoding": {"y": {"field": "lo", "type": "quantitative", "scale": {"domain": [0.7, 7.3], "nice": false, "zero": false}, "axis": {"title": null}}, "y2": {"field": "hi"}, "x": {"field": "xc", "type": "quantitative", "scale": {"domain": [0.4, 2.6], "nice": false, "zero": false}, "axis": {"title": null}}}}
     ]}
   ]}
  ]},
  {"spacing": 0, "vconcat": [
   {"width": 629, "height": 52, "view": {"fill": "#d9d9d9", "stroke": "#333333", "strokeWidth": 1.8}, "data": {"values": [{"topic": "Pandemic preparedness"}]}, "mark": {"type": "text", "fontSize": 27, "color": "#1a1a1a"}, "encoding": {"text": {"field": "topic", "type": "nominal"}}},
   {"width": 629, "height": 445, "layer": [
    {"data": {"name": "violin"},
     "transform": [{"filter": "datum.topic === 'Pandemic preparedness'"}, {"calculate": "(datum.author === 'Human' ? 1 : 2) + (datum.transparency === 'Transparent' ? 0.225 : -0.225)", "as": "xc"}, {"calculate": "datum.xc - datum.w", "as": "xl"}, {"calculate": "datum.xc + datum.w", "as": "xr"}],
     "mark": {"type": "area", "orient": "horizontal", "interpolate": "monotone", "stroke": "#333333", "strokeWidth": 2.5, "strokeJoin": "round"},
     "encoding": {
      "y": {"field": "y", "type": "quantitative", "scale": {"domain": [0.7, 7.3], "nice": false, "zero": false}, "axis": {"values": [1,2,3,4,5,6,7], "format": "d", "labelExpr": "datum.value % 2 === 0 ? datum.label : ''", "gridWidth": {"condition": {"test": "datum.value % 2 === 0", "value": 2.2}, "value": 1.1}, "tickOpacity": {"condition": {"test": "datum.value % 2 === 0", "value": 1}, "value": 0}, "labelPadding": 6, "title": null}},
      "x": {"field": "xl", "type": "quantitative", "stack": null, "scale": {"domain": [0.4, 2.6], "nice": false, "zero": false}, "axis": {"values": [1, 2], "labelExpr": "datum.value === 1 ? 'Human' : 'AI'", "gridWidth": 2.2, "labelPadding": 3, "title": null}},
      "x2": {"field": "xr"},
      "fill": {"field": "transparency", "type": "nominal", "scale": {"domain": ["Non-transparent", "Transparent"], "range": ["#bebebe", "#ffffff"]}, "legend": null},
      "detail": {"field": "author", "type": "nominal"}}},
    {"data": {"name": "stats"},
     "transform": [{"filter": "datum.topic === 'Pandemic preparedness'"}, {"calculate": "(datum.author === 'Human' ? 1 : 2) + (datum.transparency === 'Transparent' ? 0.225 : -0.225)", "as": "xc"}, {"calculate": "datum.xc - 0.2", "as": "xa"}, {"calculate": "datum.xc + 0.2", "as": "xb"}],
     "layer": [
      {"mark": {"type": "point", "filled": true, "size": 240, "color": "#00008b", "opacity": 1}, "encoding": {"y": {"field": "mean", "type": "quantitative", "scale": {"domain": [0.7, 7.3], "nice": false, "zero": false}, "axis": {"title": null}}, "x": {"field": "xc", "type": "quantitative", "scale": {"domain": [0.4, 2.6], "nice": false, "zero": false}, "axis": {"title": null}}}},
      {"mark": {"type": "rule", "strokeWidth": 6.5, "color": "#000000"}, "encoding": {"y": {"field": "lo", "type": "quantitative", "scale": {"domain": [0.7, 7.3], "nice": false, "zero": false}, "axis": {"title": null}}, "x": {"field": "xa", "type": "quantitative", "scale": {"domain": [0.4, 2.6], "nice": false, "zero": false}, "axis": {"title": null}}, "x2": {"field": "xb"}}},
      {"mark": {"type": "rule", "strokeWidth": 6.5, "color": "#000000"}, "encoding": {"y": {"field": "hi", "type": "quantitative", "scale": {"domain": [0.7, 7.3], "nice": false, "zero": false}, "axis": {"title": null}}, "x": {"field": "xa", "type": "quantitative", "scale": {"domain": [0.4, 2.6], "nice": false, "zero": false}, "axis": {"title": null}}, "x2": {"field": "xb"}}},
      {"mark": {"type": "rule", "strokeWidth": 6, "color": "#000000"}, "encoding": {"y": {"field": "lo", "type": "quantitative", "scale": {"domain": [0.7, 7.3], "nice": false, "zero": false}, "axis": {"title": null}}, "y2": {"field": "hi"}, "x": {"field": "xc", "type": "quantitative", "scale": {"domain": [0.4, 2.6], "nice": false, "zero": false}, "axis": {"title": null}}}}
     ]}
   ]}
  ]}
 ]},
 {"spacing": 17, "vconcat": [
  {"spacing": 0, "vconcat": [
   {"width": 629, "height": 52, "view": {"fill": "#d9d9d9", "stroke": "#333333", "strokeWidth": 1.8}, "data": {"values": [{"topic": "Refugees reception"}]}, "mark": {"type": "text", "fontSize": 27, "color": "#1a1a1a"}, "encoding": {"text": {"field": "topic", "type": "nominal"}}},
   {"width": 629, "height": 445, "layer": [
    {"data": {"name": "violin"},
     "transform": [{"filter": "datum.topic === 'Refugees reception'"}, {"calculate": "(datum.author === 'Human' ? 1 : 2) + (datum.transparency === 'Transparent' ? 0.225 : -0.225)", "as": "xc"}, {"calculate": "datum.xc - datum.w", "as": "xl"}, {"calculate": "datum.xc + datum.w", "as": "xr"}],
     "mark": {"type": "area", "orient": "horizontal", "interpolate": "monotone", "stroke": "#333333", "strokeWidth": 2.5, "strokeJoin": "round"},
     "encoding": {
      "y": {"field": "y", "type": "quantitative", "scale": {"domain": [0.7, 7.3], "nice": false, "zero": false}, "axis": {"values": [1,2,3,4,5,6,7], "labels": false, "ticks": false, "gridWidth": {"condition": {"test": "datum.value % 2 === 0", "value": 2.2}, "value": 1.1}, "title": null}},
      "x": {"field": "xl", "type": "quantitative", "stack": null, "scale": {"domain": [0.4, 2.6], "nice": false, "zero": false}, "axis": {"values": [1, 2], "labels": false, "ticks": false, "gridWidth": 2.2, "title": null}},
      "x2": {"field": "xr"},
      "fill": {"field": "transparency", "type": "nominal", "scale": {"domain": ["Non-transparent", "Transparent"], "range": ["#bebebe", "#ffffff"]}, "legend": null},
      "detail": {"field": "author", "type": "nominal"}}},
    {"data": {"name": "stats"},
     "transform": [{"filter": "datum.topic === 'Refugees reception'"}, {"calculate": "(datum.author === 'Human' ? 1 : 2) + (datum.transparency === 'Transparent' ? 0.225 : -0.225)", "as": "xc"}, {"calculate": "datum.xc - 0.2", "as": "xa"}, {"calculate": "datum.xc + 0.2", "as": "xb"}],
     "layer": [
      {"mark": {"type": "point", "filled": true, "size": 240, "color": "#00008b", "opacity": 1}, "encoding": {"y": {"field": "mean", "type": "quantitative", "scale": {"domain": [0.7, 7.3], "nice": false, "zero": false}, "axis": {"title": null}}, "x": {"field": "xc", "type": "quantitative", "scale": {"domain": [0.4, 2.6], "nice": false, "zero": false}, "axis": {"title": null}}}},
      {"mark": {"type": "rule", "strokeWidth": 6.5, "color": "#000000"}, "encoding": {"y": {"field": "lo", "type": "quantitative", "scale": {"domain": [0.7, 7.3], "nice": false, "zero": false}, "axis": {"title": null}}, "x": {"field": "xa", "type": "quantitative", "scale": {"domain": [0.4, 2.6], "nice": false, "zero": false}, "axis": {"title": null}}, "x2": {"field": "xb"}}},
      {"mark": {"type": "rule", "strokeWidth": 6.5, "color": "#000000"}, "encoding": {"y": {"field": "hi", "type": "quantitative", "scale": {"domain": [0.7, 7.3], "nice": false, "zero": false}, "axis": {"title": null}}, "x": {"field": "xa", "type": "quantitative", "scale": {"domain": [0.4, 2.6], "nice": false, "zero": false}, "axis": {"title": null}}, "x2": {"field": "xb"}}},
      {"mark": {"type": "rule", "strokeWidth": 6, "color": "#000000"}, "encoding": {"y": {"field": "lo", "type": "quantitative", "scale": {"domain": [0.7, 7.3], "nice": false, "zero": false}, "axis": {"title": null}}, "y2": {"field": "hi"}, "x": {"field": "xc", "type": "quantitative", "scale": {"domain": [0.4, 2.6], "nice": false, "zero": false}, "axis": {"title": null}}}}
     ]}
   ]}
  ]},
  {"spacing": 0, "vconcat": [
   {"width": 629, "height": 52, "view": {"fill": "#d9d9d9", "stroke": "#333333", "strokeWidth": 1.8}, "data": {"values": [{"topic": "AI Workforce"}]}, "mark": {"type": "text", "fontSize": 27, "color": "#1a1a1a"}, "encoding": {"text": {"field": "topic", "type": "nominal"}}},
   {"width": 629, "height": 445, "layer": [
    {"data": {"name": "violin"},
     "transform": [{"filter": "datum.topic === 'AI Workforce'"}, {"calculate": "(datum.author === 'Human' ? 1 : 2) + (datum.transparency === 'Transparent' ? 0.225 : -0.225)", "as": "xc"}, {"calculate": "datum.xc - datum.w", "as": "xl"}, {"calculate": "datum.xc + datum.w", "as": "xr"}],
     "mark": {"type": "area", "orient": "horizontal", "interpolate": "monotone", "stroke": "#333333", "strokeWidth": 2.5, "strokeJoin": "round"},
     "encoding": {
      "y": {"field": "y", "type": "quantitative", "scale": {"domain": [0.7, 7.3], "nice": false, "zero": false}, "axis": {"values": [1,2,3,4,5,6,7], "labels": false, "ticks": false, "gridWidth": {"condition": {"test": "datum.value % 2 === 0", "value": 2.2}, "value": 1.1}, "title": null}},
      "x": {"field": "xl", "type": "quantitative", "stack": null, "scale": {"domain": [0.4, 2.6], "nice": false, "zero": false}, "axis": {"values": [1, 2], "labelExpr": "datum.value === 1 ? 'Human' : 'AI'", "gridWidth": 2.2, "labelPadding": 3, "title": "Author", "titlePadding": 7}},
      "x2": {"field": "xr"},
      "fill": {"field": "transparency", "type": "nominal", "scale": {"domain": ["Non-transparent", "Transparent"], "range": ["#bebebe", "#ffffff"]}, "legend": null},
      "detail": {"field": "author", "type": "nominal"}}},
    {"data": {"name": "stats"},
     "transform": [{"filter": "datum.topic === 'AI Workforce'"}, {"calculate": "(datum.author === 'Human' ? 1 : 2) + (datum.transparency === 'Transparent' ? 0.225 : -0.225)", "as": "xc"}, {"calculate": "datum.xc - 0.2", "as": "xa"}, {"calculate": "datum.xc + 0.2", "as": "xb"}],
     "layer": [
      {"mark": {"type": "point", "filled": true, "size": 240, "color": "#00008b", "opacity": 1}, "encoding": {"y": {"field": "mean", "type": "quantitative", "scale": {"domain": [0.7, 7.3], "nice": false, "zero": false}, "axis": {"title": null}}, "x": {"field": "xc", "type": "quantitative", "scale": {"domain": [0.4, 2.6], "nice": false, "zero": false}, "axis": {"title": "Author"}}}},
      {"mark": {"type": "rule", "strokeWidth": 6.5, "color": "#000000"}, "encoding": {"y": {"field": "lo", "type": "quantitative", "scale": {"domain": [0.7, 7.3], "nice": false, "zero": false}, "axis": {"title": null}}, "x": {"field": "xa", "type": "quantitative", "scale": {"domain": [0.4, 2.6], "nice": false, "zero": false}, "axis": {"title": "Author"}}, "x2": {"field": "xb"}}},
      {"mark": {"type": "rule", "strokeWidth": 6.5, "color": "#000000"}, "encoding": {"y": {"field": "hi", "type": "quantitative", "scale": {"domain": [0.7, 7.3], "nice": false, "zero": false}, "axis": {"title": null}}, "x": {"field": "xa", "type": "quantitative", "scale": {"domain": [0.4, 2.6], "nice": false, "zero": false}, "axis": {"title": "Author"}}, "x2": {"field": "xb"}}},
      {"mark": {"type": "rule", "strokeWidth": 6, "color": "#000000"}, "encoding": {"y": {"field": "lo", "type": "quantitative", "scale": {"domain": [0.7, 7.3], "nice": false, "zero": false}, "axis": {"title": null}}, "y2": {"field": "hi"}, "x": {"field": "xc", "type": "quantitative", "scale": {"domain": [0.4, 2.6], "nice": false, "zero": false}, "axis": {"title": "Author"}}}}
     ]}
   ]}
  ]}
 ]},
 {"spacing": 121, "vconcat": [
  {"spacing": 0, "vconcat": [
   {"width": 629, "height": 52, "view": {"fill": "#d9d9d9", "stroke": "#333333", "strokeWidth": 1.8}, "data": {"values": [{"topic": "Global warming"}]}, "mark": {"type": "text", "fontSize": 27, "color": "#1a1a1a"}, "encoding": {"text": {"field": "topic", "type": "nominal"}}},
   {"width": 629, "height": 445, "layer": [
    {"data": {"name": "violin"},
     "transform": [{"filter": "datum.topic === 'Global warming'"}, {"calculate": "(datum.author === 'Human' ? 1 : 2) + (datum.transparency === 'Transparent' ? 0.225 : -0.225)", "as": "xc"}, {"calculate": "datum.xc - datum.w", "as": "xl"}, {"calculate": "datum.xc + datum.w", "as": "xr"}],
     "mark": {"type": "area", "orient": "horizontal", "interpolate": "monotone", "stroke": "#333333", "strokeWidth": 2.5, "strokeJoin": "round"},
     "encoding": {
      "y": {"field": "y", "type": "quantitative", "scale": {"domain": [0.7, 7.3], "nice": false, "zero": false}, "axis": {"values": [1,2,3,4,5,6,7], "labels": false, "ticks": false, "gridWidth": {"condition": {"test": "datum.value % 2 === 0", "value": 2.2}, "value": 1.1}, "title": null}},
      "x": {"field": "xl", "type": "quantitative", "stack": null, "scale": {"domain": [0.4, 2.6], "nice": false, "zero": false}, "axis": {"values": [1, 2], "labelExpr": "datum.value === 1 ? 'Human' : 'AI'", "gridWidth": 2.2, "labelPadding": 3, "title": null}},
      "x2": {"field": "xr"},
      "fill": {"field": "transparency", "type": "nominal", "scale": {"domain": ["Non-transparent", "Transparent"], "range": ["#bebebe", "#ffffff"]}, "legend": null},
      "detail": {"field": "author", "type": "nominal"}}},
    {"data": {"name": "stats"},
     "transform": [{"filter": "datum.topic === 'Global warming'"}, {"calculate": "(datum.author === 'Human' ? 1 : 2) + (datum.transparency === 'Transparent' ? 0.225 : -0.225)", "as": "xc"}, {"calculate": "datum.xc - 0.2", "as": "xa"}, {"calculate": "datum.xc + 0.2", "as": "xb"}],
     "layer": [
      {"mark": {"type": "point", "filled": true, "size": 240, "color": "#00008b", "opacity": 1}, "encoding": {"y": {"field": "mean", "type": "quantitative", "scale": {"domain": [0.7, 7.3], "nice": false, "zero": false}, "axis": {"title": null}}, "x": {"field": "xc", "type": "quantitative", "scale": {"domain": [0.4, 2.6], "nice": false, "zero": false}, "axis": {"title": null}}}},
      {"mark": {"type": "rule", "strokeWidth": 6.5, "color": "#000000"}, "encoding": {"y": {"field": "lo", "type": "quantitative", "scale": {"domain": [0.7, 7.3], "nice": false, "zero": false}, "axis": {"title": null}}, "x": {"field": "xa", "type": "quantitative", "scale": {"domain": [0.4, 2.6], "nice": false, "zero": false}, "axis": {"title": null}}, "x2": {"field": "xb"}}},
      {"mark": {"type": "rule", "strokeWidth": 6.5, "color": "#000000"}, "encoding": {"y": {"field": "hi", "type": "quantitative", "scale": {"domain": [0.7, 7.3], "nice": false, "zero": false}, "axis": {"title": null}}, "x": {"field": "xa", "type": "quantitative", "scale": {"domain": [0.4, 2.6], "nice": false, "zero": false}, "axis": {"title": null}}, "x2": {"field": "xb"}}},
      {"mark": {"type": "rule", "strokeWidth": 6, "color": "#000000"}, "encoding": {"y": {"field": "lo", "type": "quantitative", "scale": {"domain": [0.7, 7.3], "nice": false, "zero": false}, "axis": {"title": null}}, "y2": {"field": "hi"}, "x": {"field": "xc", "type": "quantitative", "scale": {"domain": [0.4, 2.6], "nice": false, "zero": false}, "axis": {"title": null}}}}
     ]}
   ]}
  ]},
  {"width": 439, "height": 194, "view": {"stroke": null, "fill": null},
   "data": {"values": [{"transparency": "Non-transparent"}, {"transparency": "Transparent"}]},
   "encoding": {"y": {"field": "transparency", "type": "nominal", "scale": {"type": "point", "domain": ["Non-transparent", "Transparent"], "padding": 0.5}, "axis": null}},
   "layer": [
    {"mark": {"type": "point", "shape": "square", "size": 8649, "filled": true, "stroke": "#333333", "strokeWidth": 2.7, "opacity": 1}, "encoding": {"fill": {"field": "transparency", "type": "nominal", "scale": {"domain": ["Non-transparent", "Transparent"], "range": ["#bebebe", "#ffffff"]}, "legend": null}}},
    {"mark": {"type": "point", "filled": true, "size": 283, "color": "#00008b", "opacity": 1}},
    {"mark": {"type": "text", "align": "left", "dx": 62.5, "fontSize": 27, "color": "#000000"}, "encoding": {"text": {"field": "transparency", "type": "nominal"}}},
    {"data": {"values": [{"label": "Author transparency"}]}, "mark": {"type": "text", "align": "left", "dx": -47, "dy": -73.5, "fontSize": 27, "color": "#000000"}, "encoding": {"y": {"datum": "Non-transparent", "type": "nominal"}, "text": {"field": "label", "type": "nominal"}}}
   ]}
 ]}
]}
]
}
